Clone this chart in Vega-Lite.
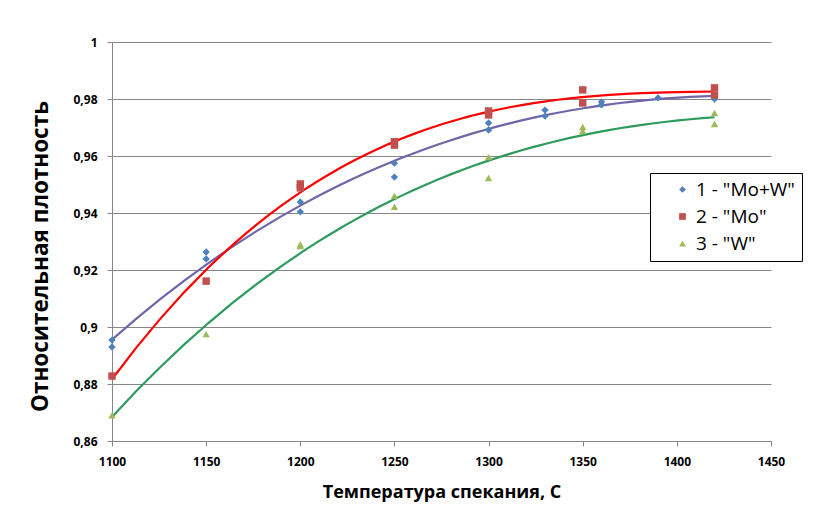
{
  "$schema": "https://vega.github.io/schema/vega-lite/v6.json",
  "autosize": "none",
  "width": 659,
  "height": 399,
  "padding": {"left": 112, "top": 42, "right": 43, "bottom": 80},
  "background": "white",
  "config": {
    "view": {"stroke": null},
    "font": "Open Sans",
    "axis": {
      "labelFont": "Open Sans",
      "titleFont": "Open Sans",
      "labelFontWeight": "bold",
      "titleFontWeight": "bold",
      "labelColor": "#000000",
      "titleColor": "#000000",
      "labelFontSize": 12,
      "titleFontSize": 18,
      "domainColor": "#868686",
      "tickColor": "#868686",
      "gridColor": "#868686",
      "tickSize": 5,
      "labelFlush": false
    }
  },
  "data": {
    "values": [
      {"s": "1 - \"Mo+W\"", "t": 1100, "d": 0.8954},
      {"s": "1 - \"Mo+W\"", "t": 1100, "d": 0.8930},
      {"s": "1 - \"Mo+W\"", "t": 1150, "d": 0.9263},
      {"s": "1 - \"Mo+W\"", "t": 1150, "d": 0.9239},
      {"s": "1 - \"Mo+W\"", "t": 1200, "d": 0.9439},
      {"s": "1 - \"Mo+W\"", "t": 1200, "d": 0.9404},
      {"s": "1 - \"Mo+W\"", "t": 1250, "d": 0.9575},
      {"s": "1 - \"Mo+W\"", "t": 1250, "d": 0.9526},
      {"s": "1 - \"Mo+W\"", "t": 1300, "d": 0.9716},
      {"s": "1 - \"Mo+W\"", "t": 1300, "d": 0.9691},
      {"s": "1 - \"Mo+W\"", "t": 1330, "d": 0.9761},
      {"s": "1 - \"Mo+W\"", "t": 1330, "d": 0.9740},
      {"s": "1 - \"Mo+W\"", "t": 1360, "d": 0.9790},
      {"s": "1 - \"Mo+W\"", "t": 1360, "d": 0.9780},
      {"s": "1 - \"Mo+W\"", "t": 1390, "d": 0.9804},
      {"s": "1 - \"Mo+W\"", "t": 1420, "d": 0.9807},
      {"s": "1 - \"Mo+W\"", "t": 1420, "d": 0.9800},
      {"s": "2 - \"Mo\"", "t": 1100, "d": 0.8828},
      {"s": "2 - \"Mo\"", "t": 1150, "d": 0.9161},
      {"s": "2 - \"Mo\"", "t": 1200, "d": 0.9502},
      {"s": "2 - \"Mo\"", "t": 1200, "d": 0.9488},
      {"s": "2 - \"Mo\"", "t": 1250, "d": 0.9650},
      {"s": "2 - \"Mo\"", "t": 1250, "d": 0.9638},
      {"s": "2 - \"Mo\"", "t": 1300, "d": 0.9758},
      {"s": "2 - \"Mo\"", "t": 1300, "d": 0.9744},
      {"s": "2 - \"Mo\"", "t": 1350, "d": 0.9832},
      {"s": "2 - \"Mo\"", "t": 1350, "d": 0.9786},
      {"s": "2 - \"Mo\"", "t": 1420, "d": 0.9839},
      {"s": "2 - \"Mo\"", "t": 1420, "d": 0.9814},
      {"s": "3 - \"W\"", "t": 1100, "d": 0.8690},
      {"s": "3 - \"W\"", "t": 1150, "d": 0.8975},
      {"s": "3 - \"W\"", "t": 1200, "d": 0.9290},
      {"s": "3 - \"W\"", "t": 1200, "d": 0.9284},
      {"s": "3 - \"W\"", "t": 1250, "d": 0.9460},
      {"s": "3 - \"W\"", "t": 1250, "d": 0.9422},
      {"s": "3 - \"W\"", "t": 1300, "d": 0.9596},
      {"s": "3 - \"W\"", "t": 1300, "d": 0.9523},
      {"s": "3 - \"W\"", "t": 1350, "d": 0.9702},
      {"s": "3 - \"W\"", "t": 1350, "d": 0.9688},
      {"s": "3 - \"W\"", "t": 1420, "d": 0.9751},
      {"s": "3 - \"W\"", "t": 1420, "d": 0.9712}
    ]
  },
  "encoding": {
    "x": {
      "field": "t",
      "type": "quantitative",
      "scale": {"domain": [1100, 1450], "nice": false, "zero": false},
      "axis": {
        "title": "Температура спекания, С",
        "values": [1100, 1150, 1200, 1250, 1300, 1350, 1400, 1450],
        "format": "d",
        "grid": false,
        "labelPadding": 10,
        "titlePadding": 16
      }
    },
    "y": {
      "field": "d",
      "type": "quantitative",
      "scale": {"domain": [0.86, 1], "nice": false, "zero": false},
      "axis": {
        "title": "Относительная плотность",
        "values": [0.86, 0.88, 0.9, 0.92, 0.94, 0.96, 0.98, 1],
        "labelExpr": "replace(format(datum.value, '.2~f'), '.', ',')",
        "grid": true,
        "labelPadding": 10,
        "titlePadding": 20,
        "titleFontSize": 22.5,
        "titleY": 214
      }
    }
  },
  "layer": [
    {
      "transform": [
        {"regression": "d", "on": "t", "groupby": ["s"], "method": "poly", "order": 3, "extent": [1100, 1420]}
      ],
      "mark": {"type": "line", "strokeWidth": 2.2},
      "encoding": {
        "stroke": {
          "field": "s",
          "type": "nominal",
          "scale": {"range": ["#6E66A8", "#FF0000", "#2E9A5C"]},
          "legend": null
        }
      }
    },
    {
      "mark": {"type": "point", "filled": true, "size": 55, "opacity": 1},
      "encoding": {
        "color": {
          "field": "s",
          "type": "nominal",
          "scale": {"range": ["#4F81BD", "#C0504D", "#9BBB59"]},
          "legend": {
            "title": null,
            "orient": "none",
            "legendX": 538,
            "legendY": 131,
            "fillColor": "white",
            "strokeColor": "#000000",
            "padding": 7,
            "rowPadding": 7,
            "symbolSize": 45,
            "symbolOffset": 16,
            "labelOffset": 4,
            "labelFont": "Open Sans",
            "labelFontSize": 19,
            "labelColor": "#000000",
            "labelLimit": 300
          }
        },
        "shape": {
          "field": "s",
          "type": "nominal",
          "scale": {"range": ["diamond", "square", "triangle-up"]}
        }
      }
    }
  ],
  "resolve": {"scale": {"stroke": "independent"}}
}
